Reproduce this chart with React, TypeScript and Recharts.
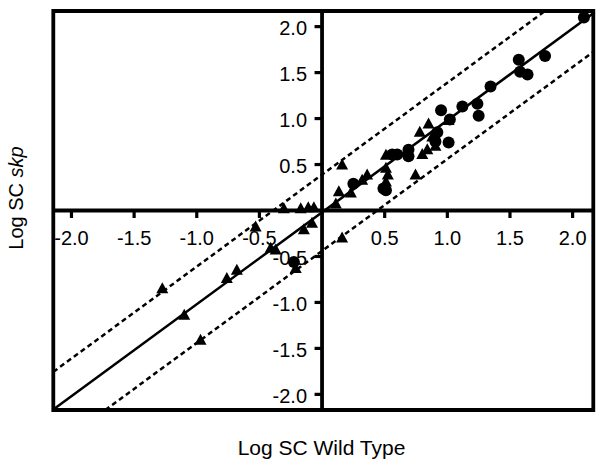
import React from 'react';
import {
  ScatterChart, Scatter, XAxis, YAxis, ReferenceLine, ReferenceArea, ReferenceDot,
} from 'recharts';

// Data
const circleX = [2.09, 1.57, 1.78, 1.58, 1.64, 1.345, 1.12, 1.24, 1.25, 0.95, 1.02, 1.01, 0.92, 0.905, 0.69, 0.69, 0.60, 0.56, 0.49, 0.51, 0.25, -0.225];
const circleY = [2.10, 1.64, 1.68, 1.51, 1.48, 1.35, 1.13, 1.16, 1.03, 1.09, 0.99, 0.74, 0.85, 0.75, 0.66, 0.59, 0.61, 0.61, 0.24, 0.22, 0.29, -0.56];

const triX = [0.85, 0.78, 1.01, 0.88, 0.80, 0.84, 0.905, 0.51, 0.51, 0.525, 0.51, 0.746, 0.16, 0.36, 0.32, 0.23, 0.134, 0.11, -0.065, -0.11, -0.08, -0.145, -0.305, -0.17, -0.53, -0.41, -0.37, -0.21, -0.68, -0.76, -1.275, -1.10, -0.97, 0.16];
const triY = [0.94, 0.85, 0.98, 0.80, 0.61, 0.66, 0.70, 0.60, 0.46, 0.385, 0.31, 0.385, 0.495, 0.385, 0.33, 0.19, 0.205, 0.07, 0.03, 0.03, -0.14, -0.21, 0.02, 0.02, -0.18, -0.41, -0.43, -0.63, -0.65, -0.74, -0.85, -1.14, -1.41, -0.30];

// Fitted line (slope, intercept) and prediction band intercepts
const fitSlope = 1.0;
const fitIntercept = -0.02;
const bandUpper = 0.39;
const bandLower = -0.44;

const xTicks = [-2.0, -1.5, -1.0, -0.5, 0.5, 1.0, 1.5, 2.0];
const yTicks = [-2.0, -1.5, -1.0, -0.5, 0.5, 1.0, 1.5, 2.0];
const xLabelText = ['-2.0', '-1.5', '-1.0', '-0.5', '0.5', '1.0', '1.5', '2.0'];
const yLabelText = ['-2.0', '-1.5', '-1.0', '-0.5', '0.5', '1.0', '1.5', '2.0'];

const X_DOMAIN: [number, number] = [-2.145, 2.165];
const Y_DOMAIN: [number, number] = [-2.17, 2.17];

const FONT = '"Liberation Sans", Arial, Helvetica, sans-serif';

const circles = circleX.map((x, i) => ({ x, y: circleY[i] }));
const triangles = triX.map((x, i) => ({ x, y: triY[i] }));

function lineSegment(slope: number, b: number) {
  const [xmin, xmax] = X_DOMAIN;
  const [ymin, ymax] = Y_DOMAIN;
  const xs = Math.max(xmin, (ymin - b) / slope);
  const xe = Math.min(xmax, (ymax - b) / slope);
  return [
    { x: xs, y: slope * xs + b },
    { x: xe, y: slope * xe + b },
  ];
}

const CircleShape = (p: any) => <circle cx={p.cx} cy={p.cy} r={6} fill="#000" />;
const TriShape = (p: any) => (
  <polygon
    points={`${p.cx},${p.cy - 6.5} ${p.cx - 6},${p.cy + 4.5} ${p.cx + 6},${p.cy + 4.5}`}
    fill="#000"
  />
);

export default function App() {
  return (
    <div style={{ position: 'absolute', left: 0, top: 0, width: 600, height: 467, background: '#fff' }}>
      <ScatterChart width={600} height={467} margin={{ top: 11, right: 6.7, bottom: 57, left: 53.3 }}>
        <XAxis type="number" dataKey="x" domain={X_DOMAIN} hide allowDataOverflow />
        <YAxis type="number" dataKey="y" domain={Y_DOMAIN} hide allowDataOverflow />
        <ReferenceArea
          x1={X_DOMAIN[0]} x2={X_DOMAIN[1]} y1={Y_DOMAIN[0]} y2={Y_DOMAIN[1]}
          fill="none" fillOpacity={0} stroke="#000" strokeWidth={3.8} strokeOpacity={1}
        />
        <ReferenceLine x={0} stroke="#000" strokeWidth={3.8} />
        <ReferenceLine y={0} stroke="#000" strokeWidth={3.8} />
        <ReferenceLine segment={lineSegment(fitSlope, fitIntercept)} stroke="#000" strokeWidth={2.5} />
        <ReferenceLine segment={lineSegment(fitSlope, bandUpper)} stroke="#000" strokeWidth={2.5} strokeDasharray="5 3.5" />
        <ReferenceLine segment={lineSegment(fitSlope, bandLower)} stroke="#000" strokeWidth={2.5} strokeDasharray="5 3.5" />
        {xTicks.map((t, i) => (
          <ReferenceDot
            key={'xt' + i}
            x={t}
            y={0}
            ifOverflow="visible"
            shape={(p: any) => (
              <g>
                <line x1={p.cx} y1={p.cy} x2={p.cx} y2={p.cy + 7.5} stroke="#000" strokeWidth={3.2} />
                <text x={p.cx} y={p.cy + 34.5} textAnchor="middle" fontSize={20} fontFamily={FONT} fill="#000">
                  {xLabelText[i]}
                </text>
              </g>
            )}
          />
        ))}
        {yTicks.map((t, i) => (
          <ReferenceDot
            key={'yt' + i}
            x={0}
            y={t}
            ifOverflow="visible"
            shape={(p: any) => (
              <g>
                <line x1={p.cx - 7.5} y1={p.cy} x2={p.cx} y2={p.cy} stroke="#000" strokeWidth={3.2} />
                <text x={p.cx - 15} y={p.cy + 8.3} textAnchor="end" fontSize={20} fontFamily={FONT} fill="#000">
                  {yLabelText[i]}
                </text>
              </g>
            )}
          />
        ))}
        <Scatter data={triangles} shape={TriShape} isAnimationActive={false} />
        <Scatter data={circles} shape={CircleShape} isAnimationActive={false} />
      </ScatterChart>
      <div
        style={{
          position: 'absolute', left: 0, width: 643, top: 436, textAlign: 'center',
          fontFamily: FONT, fontSize: 21, lineHeight: '24px', color: '#000',
        }}
      >
        Log SC Wild Type
      </div>
      <div
        style={{
          position: 'absolute', left: 16, top: 198, width: 0, height: 0,
        }}
      >
        <div
          style={{
            position: 'absolute', left: 0, top: 0, whiteSpace: 'nowrap',
            transform: 'translate(-50%, -50%) rotate(-90deg)',
            fontFamily: FONT, fontSize: 20, lineHeight: '24px', color: '#000',
          }}
        >
          Log SC <i>skp</i>
        </div>
      </div>
    </div>
  );
}
